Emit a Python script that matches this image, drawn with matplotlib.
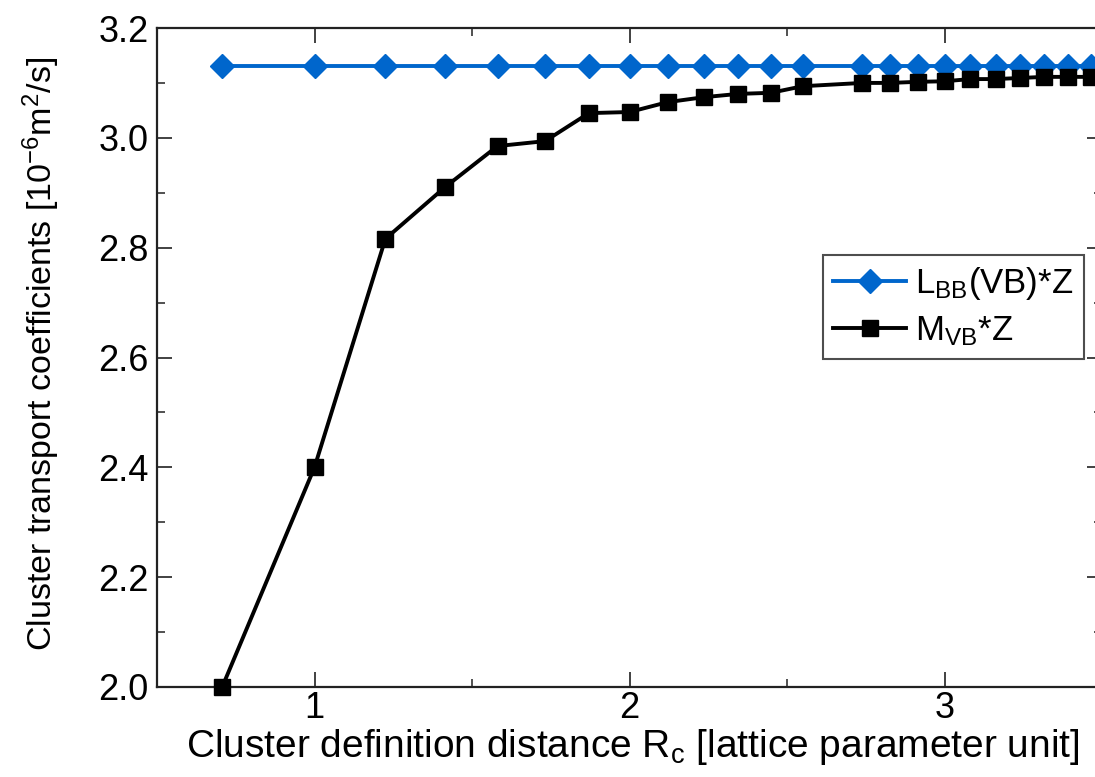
import numpy as np
import matplotlib
matplotlib.use("Agg")
import matplotlib.pyplot as plt
from matplotlib.ticker import MultipleLocator, FormatStrFormatter

plt.rcParams['font.family'] = ['Liberation Sans', 'DejaVu Sans']
plt.rcParams['mathtext.fontset'] = 'custom'
plt.rcParams['mathtext.rm'] = 'Liberation Sans'
plt.rcParams['mathtext.it'] = 'Liberation Sans'
plt.rcParams['mathtext.default'] = 'regular'

# Cluster definition distances (fcc neighbour shells, lattice parameter units)
rc = [0.707, 1.000, 1.225, 1.414, 1.581, 1.732, 1.871, 2.000, 2.121, 2.236,
      2.345, 2.449, 2.550, 2.739, 2.828, 2.915, 3.000, 3.082, 3.162, 3.240,
      3.317, 3.391, 3.464]
l_bb = [3.131] * len(rc)
m_vb = [2.000, 2.400, 2.816, 2.910, 2.985, 2.994, 3.045, 3.047, 3.065, 3.074,
        3.080, 3.082, 3.094, 3.100, 3.100, 3.102, 3.103, 3.107, 3.107, 3.109,
        3.111, 3.111, 3.111]

label_l = 'L$_{BB}$(VB)*Z'
label_m = 'M$_{VB}$*Z'
xlabel = 'Cluster definition distance R$_{c}$ [lattice parameter unit]'
ylabel = 'Cluster transport coefficients [10$^{-6}$m$^{2}$/s]'

W, H = 1095, 777
fig = plt.figure(figsize=(W / 100, H / 100), dpi=100)
left, right, top, bottom = 157, 1102, 28, 687
ax = fig.add_axes([left / W, 1 - bottom / H, (right - left) / W, (bottom - top) / H])

blue = '#0066cc'
ax.plot(rc, l_bb, color=blue, lw=2.8, marker='D', ms=12.5, mec=blue, mfc=blue,
        label=label_l, clip_on=True)
ax.plot(rc, m_vb, color='black', lw=2.8, marker='s', ms=12, mec='black', mfc='black',
        label=label_m, clip_on=False, zorder=3)

ax.set_xlim(0.5, 3.5)
ax.set_ylim(2.0, 3.2)
ax.xaxis.set_major_locator(MultipleLocator(1))
ax.xaxis.set_minor_locator(MultipleLocator(0.5))
ax.yaxis.set_major_locator(MultipleLocator(0.2))
ax.yaxis.set_minor_locator(MultipleLocator(0.1))
ax.yaxis.set_major_formatter(FormatStrFormatter('%.1f'))

ax.tick_params(which='both', direction='in', top=True, right=True, color='#333333')
ax.tick_params(which='major', length=11, width=1.3, labelsize=26, pad=6)
ax.tick_params(which='minor', length=6, width=1.2)
ax.tick_params(axis='x', which='major', pad=3)
for s in ax.spines.values():
    s.set_linewidth(1.6)
    s.set_color('#222222')

ax.set_xlabel(xlabel, fontsize=28)
ax.xaxis.set_label_coords(0.503, -0.060)
ax.set_ylabel(ylabel, fontsize=24.5)
ax.yaxis.set_label_coords(-0.100, 0.505)

leg = ax.legend(loc='upper left', bbox_to_anchor=(823 / W, 1 - 255 / H),
                bbox_transform=fig.transFigure, fontsize=25, frameon=True,
                fancybox=False, edgecolor='#222222', handlelength=2.1,
                handletextpad=0.25, borderpad=0.3, labelspacing=0.35,
                borderaxespad=0)
leg.get_frame().set_linewidth(1.5)

fig.savefig('out.png', dpi=100)
